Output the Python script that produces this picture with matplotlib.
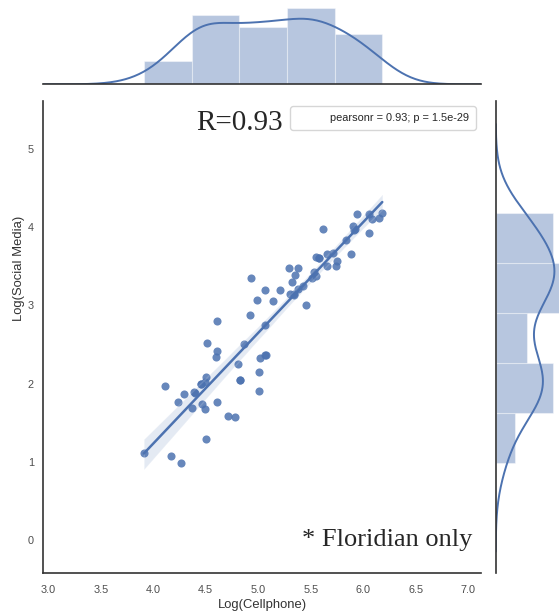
import numpy as np
import matplotlib
matplotlib.use("Agg")
import matplotlib.pyplot as plt
import seaborn as sns
from matplotlib.lines import Line2D

# Log(Cellphone) / Log(Social Media)
# (last few entries sit behind visible points; implied by the marginal bars)
cellphone = [3.91, 4.17, 4.26, 4.11, 4.24, 4.29, 4.37, 4.39, 4.45, 4.50,
             4.49, 4.46, 4.49, 4.50, 4.51, 4.61, 4.61, 4.60, 4.61, 4.71,
             4.78, 4.81, 4.83, 4.86, 4.93, 4.92, 4.99, 5.06, 5.06, 5.02,
             5.07, 5.01, 5.01, 5.14, 5.21, 5.29, 5.38, 5.35, 5.32, 5.30,
             5.34, 5.38, 5.43, 5.45, 5.51, 5.53, 5.55, 5.55, 5.58, 5.62,
             5.65, 5.65, 5.71, 5.75, 5.74, 5.83, 5.88, 5.90, 5.91, 5.94,
             6.05, 6.05, 6.08, 6.15, 6.18,
             4.45, 4.40, 4.83, 5.06, 5.34, 5.58, 5.92]
social_media = [1.11, 1.07, 0.99, 1.97, 1.76, 1.87, 1.69, 1.89, 2.00, 2.09,
                2.02, 1.74, 1.68, 1.29, 2.52, 2.80, 2.41, 2.34, 1.77, 1.58,
                1.57, 2.25, 2.05, 2.50, 3.35, 2.88, 3.07, 3.19, 2.75, 2.33,
                2.37, 2.15, 1.90, 3.05, 3.20, 3.48, 3.48, 3.39, 3.30, 3.14,
                3.13, 3.21, 3.25, 3.01, 3.35, 3.42, 3.37, 3.62, 3.60, 3.97,
                3.66, 3.50, 3.67, 3.57, 3.50, 3.83, 3.66, 4.01, 3.96, 4.17,
                4.16, 3.93, 4.10, 4.11, 4.18,
                2.00, 1.88, 2.05, 2.36, 3.14, 3.60, 3.97]

x_ticks = [3.0, 3.5, 4.0, 4.5, 5.0, 5.5, 6.0, 6.5, 7.0]
y_ticks = [0, 1, 2, 3, 4, 5]
stat_label = "pearsonr = 0.93; p = 1.5e-29"

x = np.array(cellphone)
y = np.array(social_media)

sns.set_style("white")
plt.rcParams["font.family"] = ["Liberation Sans", "DejaVu Sans"]

blue = "#4C72B0"
W, H = 559, 612
fig = plt.figure(figsize=(W / 100, H / 100), dpi=100)


def px_axes(l, t, r, b):
    return fig.add_axes([l / W, 1 - b / H, (r - l) / W, (b - t) / H])


ax = px_axes(43, 101, 481, 573)
ax_top = px_axes(43, 0, 481, 84.3)
ax_right = px_axes(495.7, 101, 559, 573)


def kde(data, grid):
    bw = data.std(ddof=1) * len(data) ** (-1 / 5)
    z = (grid[:, None] - data[None, :]) / bw
    return np.exp(-0.5 * z ** 2).sum(axis=1) / (len(data) * bw * np.sqrt(2 * np.pi)), bw


# main regression plot
sns.regplot(x=x, y=y, ax=ax, ci=95, seed=3, color=blue,
            scatter_kws={"s": 34, "alpha": 0.85, "linewidths": 0},
            line_kws={"lw": 1.8})
ax.set_xlim(2.95, 7.12)
ax.set_ylim(-0.42, 5.61)
ax.set_xticks(x_ticks)
ax.set_yticks(y_ticks)
ax.set_xticklabels([f"{t:.1f}" for t in x_ticks])
ax.tick_params(labelsize=7.8, colors=".3")
ax.tick_params(axis="x", pad=5)
ax.tick_params(axis="y", pad=3)
ax.set_xlabel("Log(Cellphone)", fontsize=9.4, color=".2", labelpad=3)
ax.set_ylabel("Log(Social Media)", fontsize=9.4, color=".2")
ax.yaxis.set_label_coords(-0.042, 0.646)
for s in ["top", "right"]:
    ax.spines[s].set_visible(False)
for s in ["left", "bottom"]:
    ax.spines[s].set_color(".2")
    ax.spines[s].set_linewidth(1.2)

leg = ax.legend([Line2D([], [], linestyle="none")], [stat_label],
                loc="upper right", fontsize=7.9, frameon=True,
                fancybox=True, borderaxespad=0.5, borderpad=0.6,
                handlelength=2.2)
leg.get_frame().set_edgecolor(".8")

ax.text(0.548, 0.953, "R=0.93", transform=ax.transAxes, ha="right",
        va="center", fontsize=21, family="Liberation Serif")
ax.text(0.98, 0.07, "* Floridian only", transform=ax.transAxes, ha="right",
        va="center", fontsize=19, family="Liberation Serif")

# top marginal
counts, _, _ = ax_top.hist(x, bins=5, density=True, color=blue, alpha=0.4,
                           edgecolor="white", linewidth=0.8)
gx = np.linspace(2.9, 7.2, 300)
kx, _ = kde(x, gx)
ax_top.plot(gx, kx, color=blue, lw=1.4)
ax_top.set_xlim(ax.get_xlim())
ax_top.set_ylim(0, counts.max() * 1.1)
ax_top.set_xticks([])
ax_top.set_yticks([])
for s in ["top", "right", "left"]:
    ax_top.spines[s].set_visible(False)
ax_top.spines["bottom"].set_color(".2")
ax_top.spines["bottom"].set_linewidth(1.2)

# right marginal
counts_r, _, _ = ax_right.hist(y, bins=5, density=True, orientation="horizontal",
                               color=blue, alpha=0.4, edgecolor="white",
                               linewidth=0.8)
ky_bw = y.std(ddof=1) * len(y) ** (-1 / 5)
gy = np.linspace(y.min() - 3 * ky_bw, y.max() + 3 * ky_bw, 300)
ky, _ = kde(y, gy)
ax_right.plot(ky, gy, color=blue, lw=1.4)
ax_right.set_ylim(ax.get_ylim())
ax_right.set_xlim(0, counts_r.max())
ax_right.set_xticks([])
ax_right.set_yticks([])
for s in ["top", "right", "bottom"]:
    ax_right.spines[s].set_visible(False)
ax_right.spines["left"].set_color(".2")
ax_right.spines["left"].set_linewidth(1.2)

fig.savefig("out.png", dpi=100)
